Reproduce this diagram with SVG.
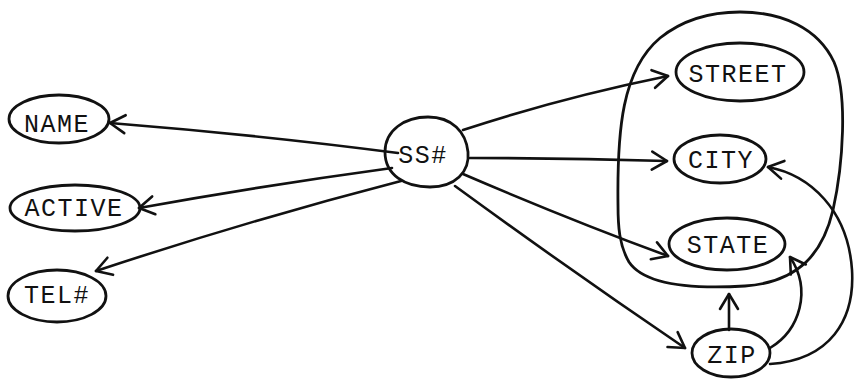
<svg xmlns="http://www.w3.org/2000/svg" width="854" height="379" viewBox="0 0 854 379">
  <style>
    .shape { fill: none; stroke: #111; stroke-width: 2.8; stroke-linecap: round; stroke-linejoin: round; }
    .edge { fill: none; stroke: #111; stroke-width: 2.6; stroke-linecap: round; }
    .label { font-family: "Liberation Mono", "DejaVu Sans Mono", monospace; font-size: 25px; letter-spacing: 1.5px; fill: #111; text-anchor: middle; }
  </style>
  <defs>
    <marker id="arrow" viewBox="-18 -11 22 22" markerWidth="22" markerHeight="22" refX="0" refY="0" orient="auto" markerUnits="userSpaceOnUse">
      <path d="M -15,-9 L 0,0 L -15,9" fill="none" stroke="#111" stroke-width="2.6" stroke-linecap="round" stroke-linejoin="round"/>
    </marker>
  </defs>
  <rect width="854" height="379" fill="#fff"/>

  <!-- grouping loop around STREET, CITY, STATE -->
  <g id="address-group">
    <path class="shape" d="M 618,205 C 617,130 622,70 660,38 C 685,18 715,12 740,12 C 782,12 818,28 834,62 C 848,95 843,165 833,210 C 823,252 800,282 745,286 C 695,289 645,286 629,262 C 619,245 618,225 618,205 Z"/>
  </g>

  <g id="connectors">
    <path class="edge" marker-end="url(#arrow)" d="M 398,153 Q 260,135 110,123"/>
    <path class="edge" marker-end="url(#arrow)" d="M 392,168 Q 260,186 139,208"/>
    <path class="edge" marker-end="url(#arrow)" d="M 401,181 Q 250,220 96,271"/>
    <path class="edge" marker-end="url(#arrow)" d="M 463,130 Q 560,98 668,76"/>
    <path class="edge" marker-end="url(#arrow)" d="M 470,158 Q 570,158 667,161"/>
    <path class="edge" marker-end="url(#arrow)" d="M 463,174 Q 570,220 668,256"/>
    <path class="edge" marker-end="url(#arrow)" d="M 455,186 Q 570,270 685,348"/>
    <path class="edge" marker-end="url(#arrow)" d="M 729,330 L 729,294"/>
    <path class="edge" marker-end="url(#arrow)" d="M 770,348 C 800,330 812,290 790,257"/>
    <path class="edge" marker-end="url(#arrow)" d="M 770,364 C 830,360 855,320 852,270 C 848,210 810,175 768,167"/>
  </g>

  <g id="ss">
    <path class="shape" d="M 385,152 C 385,130 405,117 428,117 C 452,117 466,132 468,152 C 470,172 455,187 430,187 C 405,187 385,175 385,152 Z"/>
    <text class="label" x="423" y="163">SS#</text>
  </g>
  <g id="name">
    <ellipse class="shape" cx="59" cy="119" rx="50" ry="24"/>
    <text class="label" x="57" y="132">NAME</text>
  </g>
  <g id="active">
    <ellipse class="shape" cx="75" cy="208" rx="65" ry="23"/>
    <text class="label" x="74" y="216">ACTIVE</text>
  </g>
  <g id="tel">
    <ellipse class="shape" cx="57" cy="296" rx="49" ry="26"/>
    <text class="label" x="57" y="303">TEL#</text>
  </g>
  <g id="street">
    <ellipse class="shape" cx="740" cy="72" rx="64" ry="29"/>
    <text class="label" x="738" y="82">STREET</text>
  </g>
  <g id="city">
    <ellipse class="shape" cx="720" cy="159" rx="46" ry="24"/>
    <text class="label" x="721" y="168">CITY</text>
  </g>
  <g id="state">
    <ellipse class="shape" cx="727" cy="244" rx="58" ry="26"/>
    <text class="label" x="728" y="253">STATE</text>
  </g>
  <g id="zip">
    <ellipse class="shape" cx="731" cy="353" rx="39" ry="24"/>
    <text class="label" x="732" y="363">ZIP</text>
  </g>
</svg>
